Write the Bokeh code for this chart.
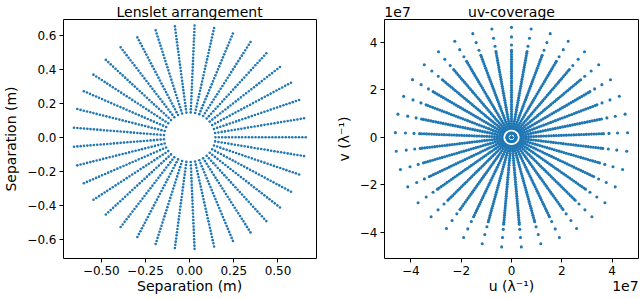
import numpy as np
from bokeh.plotting import figure
from bokeh.layouts import row
from bokeh.models import Range1d, FixedTicker, LinearAxis, ColumnDataSource
from bokeh.embed import file_html
from bokeh.resources import INLINE

# ---------------- data ----------------
# Lenslet arrangement: 37 radial spokes (angle of each spoke, degrees)
lens_angles_deg = [0.00, 9.73, 19.46, 29.19, 38.92, 48.65, 58.38, 68.11, 77.84,
                   87.57, 97.30, 107.03, 116.76, 126.49, 136.22, 145.95, 155.68,
                   165.41, 175.14, 184.86, 194.59, 204.32, 214.05, 223.78, 233.51,
                   243.24, 252.97, 262.70, 272.43, 282.16, 291.89, 301.62, 311.35,
                   321.08, 330.81, 340.54, 350.27]
# radial positions of lenslets along each spoke (m)
lens_radii_m = [0.146, 0.165, 0.184, 0.203, 0.222, 0.241, 0.260, 0.279, 0.297,
                0.316, 0.335, 0.354, 0.373, 0.392, 0.411, 0.430, 0.449, 0.468,
                0.487, 0.506, 0.525, 0.544, 0.563, 0.581, 0.600, 0.619, 0.638,
                0.657]

# uv-coverage: spokes (degrees) and sample radii along each spoke (units of 1e7 / lambda)
uv_angles_deg = [90.00, 99.73, 109.46, 119.19, 128.92, 138.65, 148.38, 158.11,
                 167.84, 177.57, 187.30, 197.03, 206.76, 216.49, 226.22, 235.95,
                 245.68, 255.41, 265.14, 274.86, 284.59, 294.32, 304.05, 313.78,
                 323.51, 333.24, 342.97, 352.70, 2.43, 12.16, 21.89, 31.62, 41.35,
                 51.08, 60.81, 70.54, 80.27]
uv_radii_1e7 = [0.00, 0.18, 0.38, 0.48, 0.58, 0.68, 0.78, 0.88, 0.98, 1.08, 1.18,
                1.28, 1.38, 1.48, 1.58, 1.68, 1.78, 1.88, 1.98, 2.08, 2.18, 2.28,
                2.38, 2.48, 2.58, 2.68, 2.78, 2.88, 2.98, 3.08, 3.18, 3.28, 3.38,
                3.48, 3.58, 3.66, 3.88, 4.22, 4.62]
uv_scale = 1e7

left_xticks = [-0.5, -0.25, 0.0, 0.25, 0.5]
left_xtick_labels = ["\u22120.50", "\u22120.25", "0.00", "0.25", "0.50"]
left_yticks = [-0.6, -0.4, -0.2, 0.0, 0.2, 0.4, 0.6]
left_ytick_labels = ["\u22120.6", "\u22120.4", "\u22120.2", "0.0", "0.2", "0.4", "0.6"]
uv_ticks = [-4e7, -2e7, 0.0, 2e7, 4e7]
uv_tick_labels = ["\u22124", "\u22122", "0", "2", "4"]

left_title = "Lenslet arrangement"
left_label = "Separation (m)"
right_title = "uv-coverage"
right_xlabel = "u (\u03bb\u207b\u00b9)"
right_ylabel = "v (\u03bb\u207b\u00b9)"
offset_text = "1e7"

# ---------------- styling ----------------
BLUE = "#1f77b4"
FONT = "DejaVu Sans"
H = 297


def style_axis(ax, size="12px"):
    ax.axis_line_color = "black"
    ax.axis_line_width = 1
    ax.major_tick_line_color = "black"
    ax.major_tick_out = 4
    ax.major_tick_in = 0
    ax.minor_tick_line_color = None
    ax.major_label_text_font = FONT
    ax.major_label_text_font_size = size
    ax.major_label_text_color = "black"
    ax.major_label_standoff = 3
    ax.axis_label_text_font = FONT
    ax.axis_label_text_font_size = "14px"
    ax.axis_label_text_font_style = "normal"
    ax.axis_label_text_color = "black"
    ax.axis_label_standoff = 5


def text_axis(ticks, labels, line=True):
    """Axis used only to carry texts (titles / labels) and, optionally, a spine."""
    ax = LinearAxis(ticker=FixedTicker(ticks=ticks),
                    major_label_overrides=dict(zip(ticks, labels)))
    ax.axis_line_color = "black" if line else None
    ax.axis_line_width = 1
    ax.major_tick_line_color = None
    ax.major_tick_out = 0
    ax.major_tick_in = 0
    ax.minor_tick_line_color = None
    ax.major_label_text_font = FONT
    ax.major_label_text_font_size = "14px"
    ax.major_label_text_color = "black"
    ax.major_label_standoff = 0
    return ax


def make_fig(width, xr, yr, mleft, mright):
    p = figure(width=width, height=H, x_range=Range1d(*xr), y_range=Range1d(*yr),
               output_backend="svg", toolbar_location=None, tools="",
               min_border_left=mleft, min_border_right=mright,
               min_border_top=15, min_border_bottom=39)
    p.grid.visible = False
    p.background_fill_color = "white"
    p.border_fill_color = "white"
    p.outline_line_color = None
    style_axis(p.xaxis[0])
    style_axis(p.yaxis[0])
    # right spine
    p.add_layout(text_axis([], []), "right")
    return p


# ---------------- left panel ----------------
LXR = (-0.714, 0.718)
LYR = (-0.713, 0.692)
p1 = make_fig(332, LXR, LYR, 58, 16)
th = np.deg2rad(np.array(lens_angles_deg))[:, None]
rr = np.array(lens_radii_m)[None, :]
src1 = ColumnDataSource(dict(x=(rr * np.cos(th)).ravel(), y=(rr * np.sin(th)).ravel()))
p1.scatter("x", "y", source=src1, size=2.6, fill_color=BLUE, line_color=None)
p1.xaxis[0].ticker = FixedTicker(ticks=left_xticks)
p1.xaxis[0].major_label_overrides = dict(zip(left_xticks, left_xtick_labels))
p1.yaxis[0].ticker = FixedTicker(ticks=left_yticks)
p1.yaxis[0].major_label_overrides = dict(zip(left_yticks, left_ytick_labels))
p1.yaxis[0].axis_label = left_label
# top spine + title, bottom label
p1.add_layout(text_axis([0.0], [left_title]), "above")
p1.add_layout(text_axis([0.0], [left_label], line=False), "below")

# ---------------- right panel ----------------
RXR = (-5.05e7, 5.05e7)
RYR = (-5.09e7, 4.95e7)
p2 = make_fig(307, RXR, RYR, 50, 1)
th2 = np.deg2rad(np.array(uv_angles_deg))[:, None]
rr2 = np.array(uv_radii_1e7)[None, :] * uv_scale
src2 = ColumnDataSource(dict(x=(rr2 * np.cos(th2)).ravel(), y=(rr2 * np.sin(th2)).ravel()))
p2.scatter("x", "y", source=src2, size=3.1, fill_color=BLUE, line_color=None)
p2.xaxis[0].ticker = FixedTicker(ticks=uv_ticks)
p2.xaxis[0].major_label_overrides = dict(zip(uv_ticks, uv_tick_labels))
p2.yaxis[0].ticker = FixedTicker(ticks=uv_ticks)
p2.yaxis[0].major_label_overrides = dict(zip(uv_ticks, uv_tick_labels))
p2.yaxis[0].axis_label = right_ylabel
# top spine with offset text and title; bottom label with offset text
p2.add_layout(text_axis([-4.53e7, 0.0], [offset_text, right_title]), "above")
p2.add_layout(text_axis([0.0, 4.53e7], [right_xlabel, offset_text], line=False), "below")

layout = row(p1, p2)
open("out.html", "w").write(file_html(layout, INLINE))
